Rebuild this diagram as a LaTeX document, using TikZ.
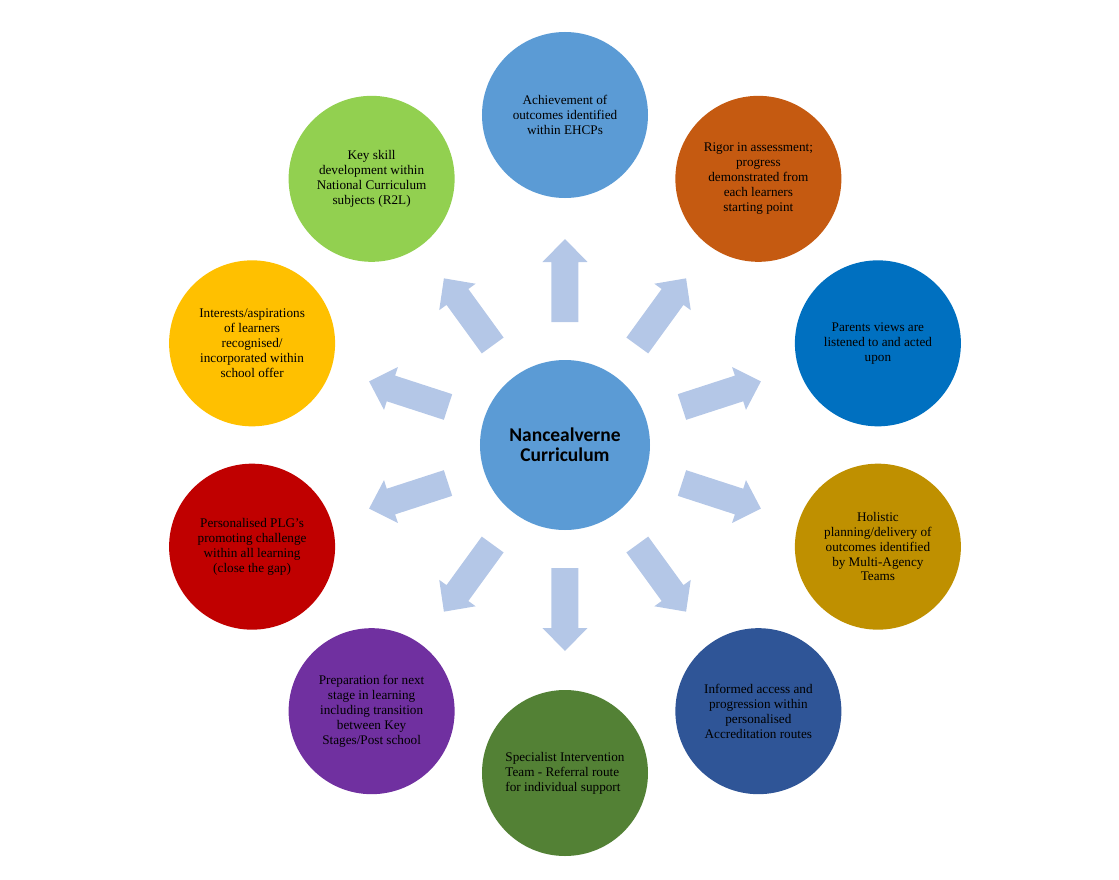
\documentclass[tikz,border=0pt]{standalone}
\usepackage{fontspec}
\setmainfont{Liberation Serif}
\newfontfamily\calibri{Carlito}
\usetikzlibrary{positioning}
\definecolor{hubblue}{HTML}{5B9BD5}
\definecolor{arrowblue}{HTML}{B4C7E7}
\definecolor{rust}{HTML}{C55A11}
\definecolor{ocean}{HTML}{0070C0}
\definecolor{mustard}{HTML}{BF9000}
\definecolor{navy}{HTML}{2F5597}
\definecolor{moss}{HTML}{538135}
\definecolor{plum}{HTML}{7030A0}
\definecolor{crimson}{HTML}{C00000}
\definecolor{amber}{HTML}{FFC000}
\definecolor{lime}{HTML}{92D050}
\begin{document}
\begin{tikzpicture}[petal/.style={shape=circle, fill=#1, minimum size=166pt,
    inner sep=0pt, align=center, font=\fontsize{13.2}{14.9}\selectfont},
  hub/.style={shape=circle, fill=hubblue, minimum size=170pt, inner sep=0pt,
    align=center, font=\calibri\bfseries\fontsize{19.5}{20}\selectfont},
  blockarrow/.style={fill=arrowblue}]
  \useasboundingbox (-565pt,-434pt) rectangle (554pt,445pt);
  \node[hub] (n) at (0,0) {Nancealverne\\Curriculum};
  % outer ring
  \node[petal=hubblue] (n0) at (90:330pt) {Achievement of\\outcomes identified\\within EHCPs};
  \node[petal=rust] (n1) at (54:329pt) {Rigor in assessment;\\progress\\demonstrated from\\each learners\\starting point};
  \node[petal=ocean] (n2) at (18:329pt) {Parents views are\\listened to and acted\\upon};
  \node[petal=mustard] (n3) at (-18:329pt) {Holistic\\planning/delivery of\\outcomes identified\\by Multi-Agency\\Teams};
  \node[petal=navy] (n4) at (-54:329pt) {Informed access and\\progression within\\personalised\\Accreditation routes};
  \node[petal=moss, align=left] (n5) at (-90:328pt) {Specialist Intervention\\Team - Referral route\\for individual support};
  \node[petal=plum] (n6) at (-126:329pt) {Preparation for next\\stage in learning\\including transition\\between Key\\Stages/Post school};
  \node[petal=crimson] (n7) at (-162:329pt) {Personalised PLG’s\\promoting challenge\\within all learning\\(close the gap)};
  \node[petal=amber] (n8) at (162:329pt) {Interests/aspirations\\of learners\\recognised/\\incorporated within\\school offer};
  \node[petal=lime] (n9) at (126:329pt) {Key skill\\development within\\National Curriculum\\subjects (R2L)};
  % block arrows
  \foreach \a in {90,54,...,-234}
    \fill[blockarrow, rotate=\a] (123pt,-13.5pt) -- (183pt,-13.5pt) -- (183pt,-22.5pt)
      -- (206pt,0pt) -- (183pt,22.5pt) -- (183pt,13.5pt) -- (123pt,13.5pt) -- cycle;
\end{tikzpicture}
\end{document}
